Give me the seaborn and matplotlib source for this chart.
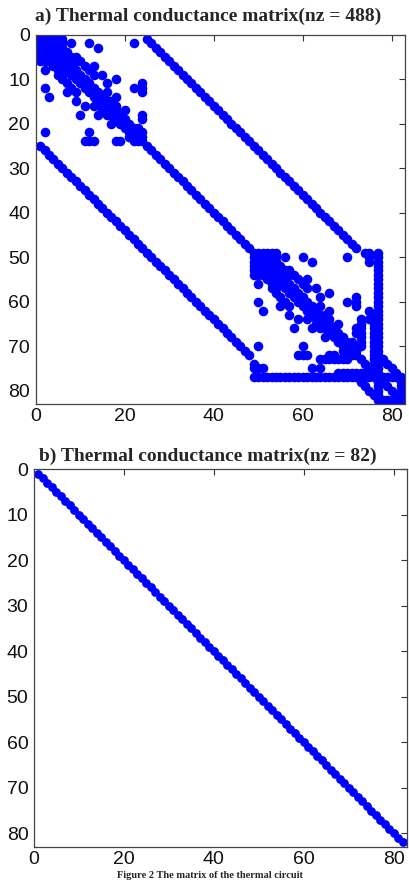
"""
Sparsity pattern of the thermal conductance matrix (spy-style plots)
"""

import pandas as pd
import seaborn as sns
import matplotlib.pyplot as plt

sns.set_style('white')
plt.rcParams['font.family'] = ['Liberation Sans', 'DejaVu Sans']

# Matrix data (1-indexed node numbers)

N = 82

# coupling inside the first group of nodes (1-24), upper triangle only
BlockPairs = [(1, 2), (1, 3), (1, 4), (1, 5), (1, 6),
              (2, 3), (2, 4), (2, 6), (2, 8), (2, 12), (2, 22),
              (3, 5), (3, 6), (3, 14),
              (4, 6), (4, 7),
              (5, 6), (5, 8), (5, 9),
              (6, 7), (6, 9), (6, 10),
              (7, 8), (7, 11), (7, 13),
              (8, 9), (8, 12),
              (9, 10), (9, 13), (9, 15),
              (10, 11), (10, 18),
              (11, 12), (11, 16), (11, 24),
              (12, 13), (12, 22), (12, 24),
              (13, 14), (13, 16), (13, 24),
              (14, 15), (14, 18),
              (15, 16), (15, 17),
              (16, 17), (16, 18),
              (17, 18), (17, 20),
              (18, 19), (18, 24),
              (19, 20), (19, 24),
              (20, 21),
              (21, 22), (21, 23),
              (22, 23), (22, 24),
              (23, 24)]

# the same coupling repeats for the second group (nodes 49-72)
BlockShift = 48

# long band linking node i to node i + 24
BandRows = list(range(1, 49))
BandOffset = 24

# node 77 couples to all of 49-82
HubNode = 77
HubRange = list(range(49, 83))

# short band in the corner (i, i + 5)
CornerRows = [72, 73, 74, 75, 76, 77]
CornerOffset = 5

# node 82 couples to 77-82
EdgeNode = 82
EdgeRange = [77, 78, 79, 80, 81, 82]

# remaining couplings of the second group, upper triangle
ExtraPairs = [(49, 74), (49, 75), (50, 75), (51, 75),
              (62, 75), (64, 75),
              (64, 73), (65, 73), (66, 73), (67, 73), (68, 73), (69, 73), (70, 73),
              (68, 76), (69, 76), (70, 76), (71, 76), (72, 76), (73, 76), (74, 76)]
# one-sided entries
ExtraEntries = [(63, 76), (64, 76), (65, 76), (66, 76), (67, 76)]

# Build the pattern

Entries = set((i, i) for i in range(1, N + 1))

def add_sym(r, c):
    Entries.add((r, c))
    Entries.add((c, r))

for r, c in BlockPairs:
    add_sym(r, c)
    add_sym(r + BlockShift, c + BlockShift)
for r in BandRows:
    add_sym(r, r + BandOffset)
for c in HubRange:
    add_sym(HubNode, c)
for r in CornerRows:
    add_sym(r, r + CornerOffset)
for c in EdgeRange:
    add_sym(EdgeNode, c)
for r, c in ExtraPairs:
    add_sym(r, c)
for r, c in ExtraEntries:
    Entries.add((r, c))

FullDf = pd.DataFrame(sorted(Entries), columns=['Row', 'Col'])
DiagDf = pd.DataFrame({'Row': range(1, N + 1), 'Col': range(1, N + 1)})

# Plot

fig = plt.figure(figsize=(4.09, 8.80), dpi=100)
W, H = 409.0, 880.0

def spy_axes(left, top, right, bottom):
    return fig.add_axes([left / W, 1 - bottom / H, (right - left) / W, (bottom - top) / H])

def style(ax):
    ax.set_xlim(0, N + 1)
    ax.set_ylim(N + 1, 0)
    ax.set_xticks([0, 20, 40, 60, 80])
    ax.set_yticks([0, 10, 20, 30, 40, 50, 60, 70, 80])
    ax.set_xlabel('')
    ax.set_ylabel('')
    ax.tick_params(direction='in', top=True, right=True, length=4, width=0.8,
                   colors='#333333', labelsize=14, labelcolor='#111111', pad=4)
    ax.tick_params(axis='x', pad=3)
    for s in ax.spines.values():
        s.set_visible(True)
        s.set_color('#444444')
        s.set_linewidth(0.9)

ax1 = spy_axes(35.7, 34.5, 405, 404)
sns.scatterplot(data=FullDf, x='Col', y='Row', ax=ax1, color='#0000ff',
                s=48, linewidth=0, marker='o', legend=False)
style(ax1)
fig.text(208 / W, 1 - 16 / H, 'a) Thermal conductance matrix(nz = 488)',
         ha='center', va='center', fontsize=14, fontweight='bold',
         family=['Liberation Serif', 'DejaVu Serif'])

ax2 = spy_axes(34, 469, 407, 847)
sns.scatterplot(data=DiagDf, x='Col', y='Row', ax=ax2, color='#0000ff',
                s=40, linewidth=0, marker='o', legend=False)
style(ax2)
fig.text(208 / W, 1 - 456 / H, 'b) Thermal conductance matrix(nz = 82)',
         ha='center', va='center', fontsize=14, fontweight='bold',
         family=['Liberation Serif', 'DejaVu Serif'])

fig.text(210 / W, 1 - 879.5 / H, 'Figure 2 The matrix of the thermal circuit',
         ha='center', va='bottom', fontsize=7.5, fontweight='bold',
         family=['Liberation Serif', 'DejaVu Serif'])

plt.savefig('out.png', dpi=100)
